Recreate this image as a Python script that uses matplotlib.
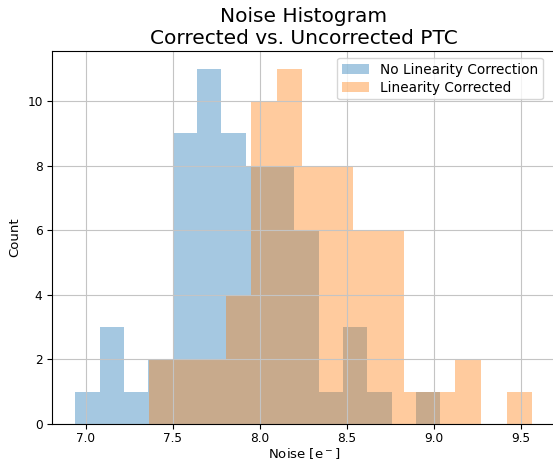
""" noise histogram, corrected vs uncorrected PTC """

import numpy as np
from matplotlib import pyplot as plt

# histogram range and counts (15 bins each)
raw_lo, raw_hi = 6.938, 9.038
raw_counts = [1, 3, 1, 2, 9, 11, 9, 8, 8, 6, 1, 3, 1, 0, 1]

corr_lo, corr_hi = 7.362, 9.565
corr_counts = [2, 2, 2, 4, 10, 11, 8, 8, 6, 6, 1, 1, 2, 0, 1]

labels = ['No Linearity Correction', 'Linearity Corrected']

fig = plt.figure(figsize=(5.53, 4.62), dpi=100)
ax = fig.add_axes([0.0946, 0.0823, 0.909, 0.8074])

# rebuild each histogram from its bins and counts
for lo, hi, counts, label in [(raw_lo, raw_hi, raw_counts, labels[0]),
                              (corr_lo, corr_hi, corr_counts, labels[1])]:
    edges = np.linspace(lo, hi, len(counts) + 1)
    ax.hist(edges[:-1], bins=edges, weights=counts, alpha=0.4, label=label)

ax.grid(True, color='#c4c4c4')
ax.set_title('Noise Histogram\nCorrected vs. Uncorrected PTC', fontsize=14.5, pad=5)
ax.set_xlabel('Noise [e$^-$]', fontsize=9.5, labelpad=1)
ax.set_ylabel('Count', fontsize=9.5)
ax.tick_params(labelsize=8.7)
ax.tick_params(axis='x', pad=2)
ax.legend(loc='upper right', bbox_to_anchor=(0.99, 1.0), fontsize=9.8,
          labelspacing=0.3, borderpad=0.35)

fig.savefig('out.png', dpi=100)
